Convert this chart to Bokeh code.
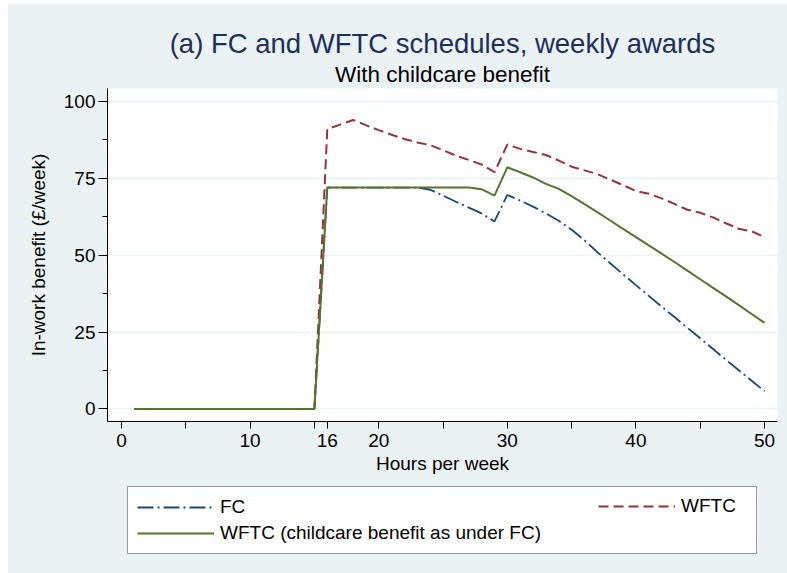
from bokeh.plotting import figure
from bokeh.models import Range1d, FixedTicker, Legend, LegendItem, Title, Spacer
from bokeh.layouts import column, row
from bokeh.embed import file_html
from bokeh.resources import INLINE

# ---- data ----
hours = list(range(1, 51))
fc = [0]*15 + [72, 72, 72, 72, 72, 72, 72, 72, 71.3, 69.4, 67.4, 65.5, 63.6, 61.0,
               69.6, 67.8, 65.8, 63.6, 61.2, 58.3, 54.9, 51.0, 47.4, 43.8, 40.3,
               36.8, 33.3, 29.9, 26.4, 23.0, 19.5, 16.0, 12.6, 9.2, 5.8]
wftc = [0]*15 + [91.0, 92.5, 94.0, 92.3, 90.7, 89.2, 87.8, 86.7, 85.8, 84.2, 82.4,
                 81.0, 79.5, 77.0, 86.0, 84.6, 83.6, 82.6, 80.8, 78.8, 77.6, 76.4,
                 74.6, 72.8, 70.9, 70.0, 68.5, 66.7, 64.8, 63.8, 62.3, 60.4, 58.6,
                 57.8, 55.9]
wftc_fc_cc = [0]*15 + [72, 72, 72, 72, 72, 72, 72, 72, 72, 72, 72, 72, 71.5, 69.4,
                       78.6, 77.0, 75.3, 73.2, 71.6, 69.2, 66.6, 64.0, 61.3, 58.6,
                       55.9, 53.2, 50.5, 47.8, 45.0, 42.2, 39.4, 36.6, 33.8, 30.9, 28.0]

x_ticks = [0, 5, 10, 15, 16, 20, 25, 30, 35, 40, 45, 50]
x_labelled = [0, 10, 16, 20, 30, 40, 50]
y_ticks = [0, 25, 50, 75, 100]
y_minor_ticks = [12.5, 37.5, 62.5, 87.5]

series_labels = ["FC", "WFTC", "WFTC (childcare benefit as under FC)"]

# ---- style ----
BG = "#EAF2F3"
FONT = "Liberation Sans"
C_FC = "#1A476F"
C_WFTC = "#90353B"
C_GREEN = "#55752F"
STYLES = [dict(line_color=C_FC, line_width=1.8, line_dash="16 4 2 4"),
          dict(line_color=C_WFTC, line_width=2, line_dash="10 5"),
          dict(line_color=C_GREEN, line_width=2)]

p = figure(width=779, height=475, output_backend="svg", toolbar_location=None,
           x_range=Range1d(-1.09, 51.01), y_range=Range1d(-4.07, 104.23),
           min_border_left=99, min_border_right=10, min_border_top=84,
           min_border_bottom=58)
p.background_fill_color = "white"
p.border_fill_color = BG
p.outline_line_color = None

p.add_layout(Title(text="With childcare benefit", align="center",
                   text_font_size="22.5px", text_font=FONT, text_font_style="normal",
                   text_color="black", standoff=3), "above")
p.add_layout(Title(text="(a) FC and WFTC schedules, weekly awards", align="center",
                   text_font_size="27.5px", text_font=FONT, text_font_style="normal",
                   text_color="#1E2F5C", standoff=0), "above")

# axes
p.xaxis.ticker = FixedTicker(ticks=x_ticks)
p.xaxis.major_label_overrides = {t: (str(t) if t in x_labelled else "") for t in x_ticks}
p.xaxis.major_tick_out = 7
p.xaxis.major_tick_in = 0
p.xaxis.axis_label = "Hours per week"

p.yaxis.ticker = FixedTicker(ticks=y_ticks, minor_ticks=y_minor_ticks)
p.yaxis.major_tick_out = 9
p.yaxis.major_tick_in = 0
p.yaxis.minor_tick_out = 5
p.yaxis.minor_tick_in = 0
p.yaxis.axis_label = "In-work benefit (£/week)"
p.yaxis.axis_label_standoff = 12

for ax in (p.xaxis[0], p.yaxis[0]):
    ax.axis_line_color = "black"
    ax.major_tick_line_color = "black"
    ax.major_label_text_font = FONT
    ax.major_label_text_font_size = "19px"
    ax.major_label_text_color = "black"
    ax.axis_label_text_font = FONT
    ax.axis_label_text_font_size = "19px"
    ax.axis_label_text_font_style = "normal"
    ax.axis_label_text_color = "black"
    ax.major_label_standoff = 3
p.xaxis.major_label_standoff = 5
p.xaxis.axis_label_standoff = 3
p.xaxis.minor_tick_line_color = None
p.yaxis.minor_tick_line_color = "black"

p.xgrid.visible = False
p.ygrid.grid_line_color = BG
p.ygrid.grid_line_width = 1.5

# lines
series = [fc, wftc, wftc_fc_cc]
for ys, st in zip(series, STYLES):
    p.line(hours, ys, **st)

# ---- legend panel (separate strip below the chart) ----
q = figure(width=779, height=94, output_backend="svg", toolbar_location=None,
           x_range=Range1d(1000, 1001), y_range=Range1d(1000, 1001),
           min_border=0, x_axis_location=None, y_axis_location=None)
q.background_fill_color = BG
q.border_fill_color = BG
q.outline_line_color = None
q.grid.visible = False
q_renderers = [q.line(hours, ys, **st) for ys, st in zip(series, STYLES)]

common = dict(orientation="vertical", glyph_width=77, glyph_height=22,
              label_height=22, label_standoff=6, spacing=4, padding=9, margin=0,
              label_text_font=FONT, label_text_font_size="19px",
              label_text_color="black")
leg_a = Legend(items=[LegendItem(label=series_labels[0], renderers=[q_renderers[0]]),
                      LegendItem(label=series_labels[2], renderers=[q_renderers[2]])],
               location=(20, 19), label_width=527,
               border_line_color="#333333", border_line_width=1,
               background_fill_color="white", background_fill_alpha=1, **common)
leg_b = Legend(items=[LegendItem(label=series_labels[1], renderers=[q_renderers[1]])],
               location=(491, 56), border_line_color=None,
               background_fill_alpha=0, **common)
q.add_layout(leg_a, "center")
q.add_layout(leg_b, "center")

inner = column(p, q, styles={"background-color": BG})
layout = column(Spacer(height=4), row(Spacer(width=8), inner))
open("out.html", "w").write(file_html(layout, INLINE))
